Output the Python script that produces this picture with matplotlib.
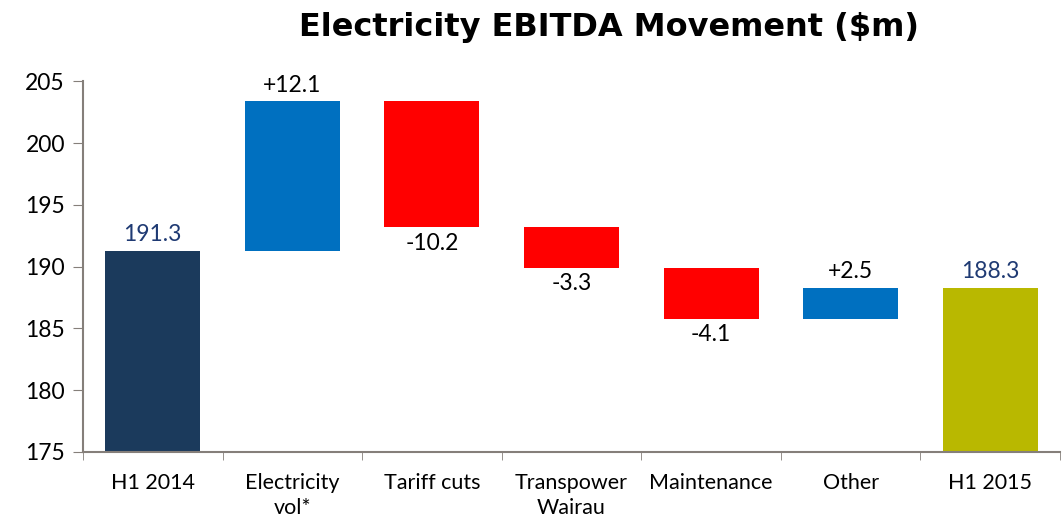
import matplotlib.pyplot as plt

categories = ["H1 2014", "Electricity\nvol*", "Tariff cuts", "Transpower\nWairau",
              "Maintenance", "Other", "H1 2015"]
changes = [191.3, 12.1, -10.2, -3.3, -4.1, 2.5, 188.3]
labels = ["191.3", "+12.1", "-10.2", "-3.3", "-4.1", "+2.5", "188.3"]
kinds = ["total", "step", "step", "step", "step", "step", "total"]

colors = {"start": "#1B3A5C", "end": "#B9B800", "up": "#0070C0", "down": "#FF0000"}
ymin = 175

fig = plt.figure(figsize=(10.62, 5.21), dpi=100)
ax = fig.add_axes([83 / 1062, 69 / 521, 977 / 1062, 383 / 521])

running = 0
for i, (c, k) in enumerate(zip(changes, kinds)):
    if k == "total":
        bottom, top = ymin, c
        running = c
        col = colors["start"] if i == 0 else colors["end"]
        ax.bar(i, top - bottom, bottom=bottom, width=0.68, color=col)
        ax.text(i, top + 0.45, labels[i], ha="center", va="bottom",
                fontsize=16.5, color="#1F3A73", family="Lato")
    else:
        new = running + c
        bottom, top = min(running, new), max(running, new)
        col = colors["up"] if c > 0 else colors["down"]
        ax.bar(i, top - bottom, bottom=bottom, width=0.68, color=col)
        if c > 0:
            ax.text(i, top + 0.45, labels[i], ha="center", va="bottom",
                    fontsize=16.5, color="black", family="Lato")
        else:
            ax.text(i, bottom - 0.45, labels[i], ha="center", va="top",
                    fontsize=16.5, color="black", family="Lato")
        running = new

ax.set_xlim(-0.5, len(categories) - 0.5)
ax.set_ylim(ymin, 206.0)
ax.set_yticks(range(175, 206, 5))
ax.set_xticks(range(len(categories)))
ax.set_xticklabels(categories, fontsize=15.5, family="Lato", linespacing=1.3)
ax.set_xticks([i + 0.5 for i in range(-1, len(categories))], minor=True)
ax.tick_params(axis="x", which="major", length=0, pad=15)
ax.tick_params(axis="x", which="minor", length=6, direction="out", color="#857F7A")
ax.tick_params(axis="y", length=7, direction="out", color="#857F7A", labelsize=16.5, pad=6)
for lab in ax.get_yticklabels():
    lab.set_family("Lato")

for s in ["top", "right"]:
    ax.spines[s].set_visible(False)
for s in ["left", "bottom"]:
    ax.spines[s].set_color("#857F7A")
    ax.spines[s].set_linewidth(1.5)
ax.spines["left"].set_bounds(175, 205)

fig.text(0.573, 0.948, "Electricity EBITDA Movement ($m)", ha="center", va="center",
         fontsize=23, fontweight="bold", family="DejaVu Sans")

fig.savefig("out.png", dpi=100)
